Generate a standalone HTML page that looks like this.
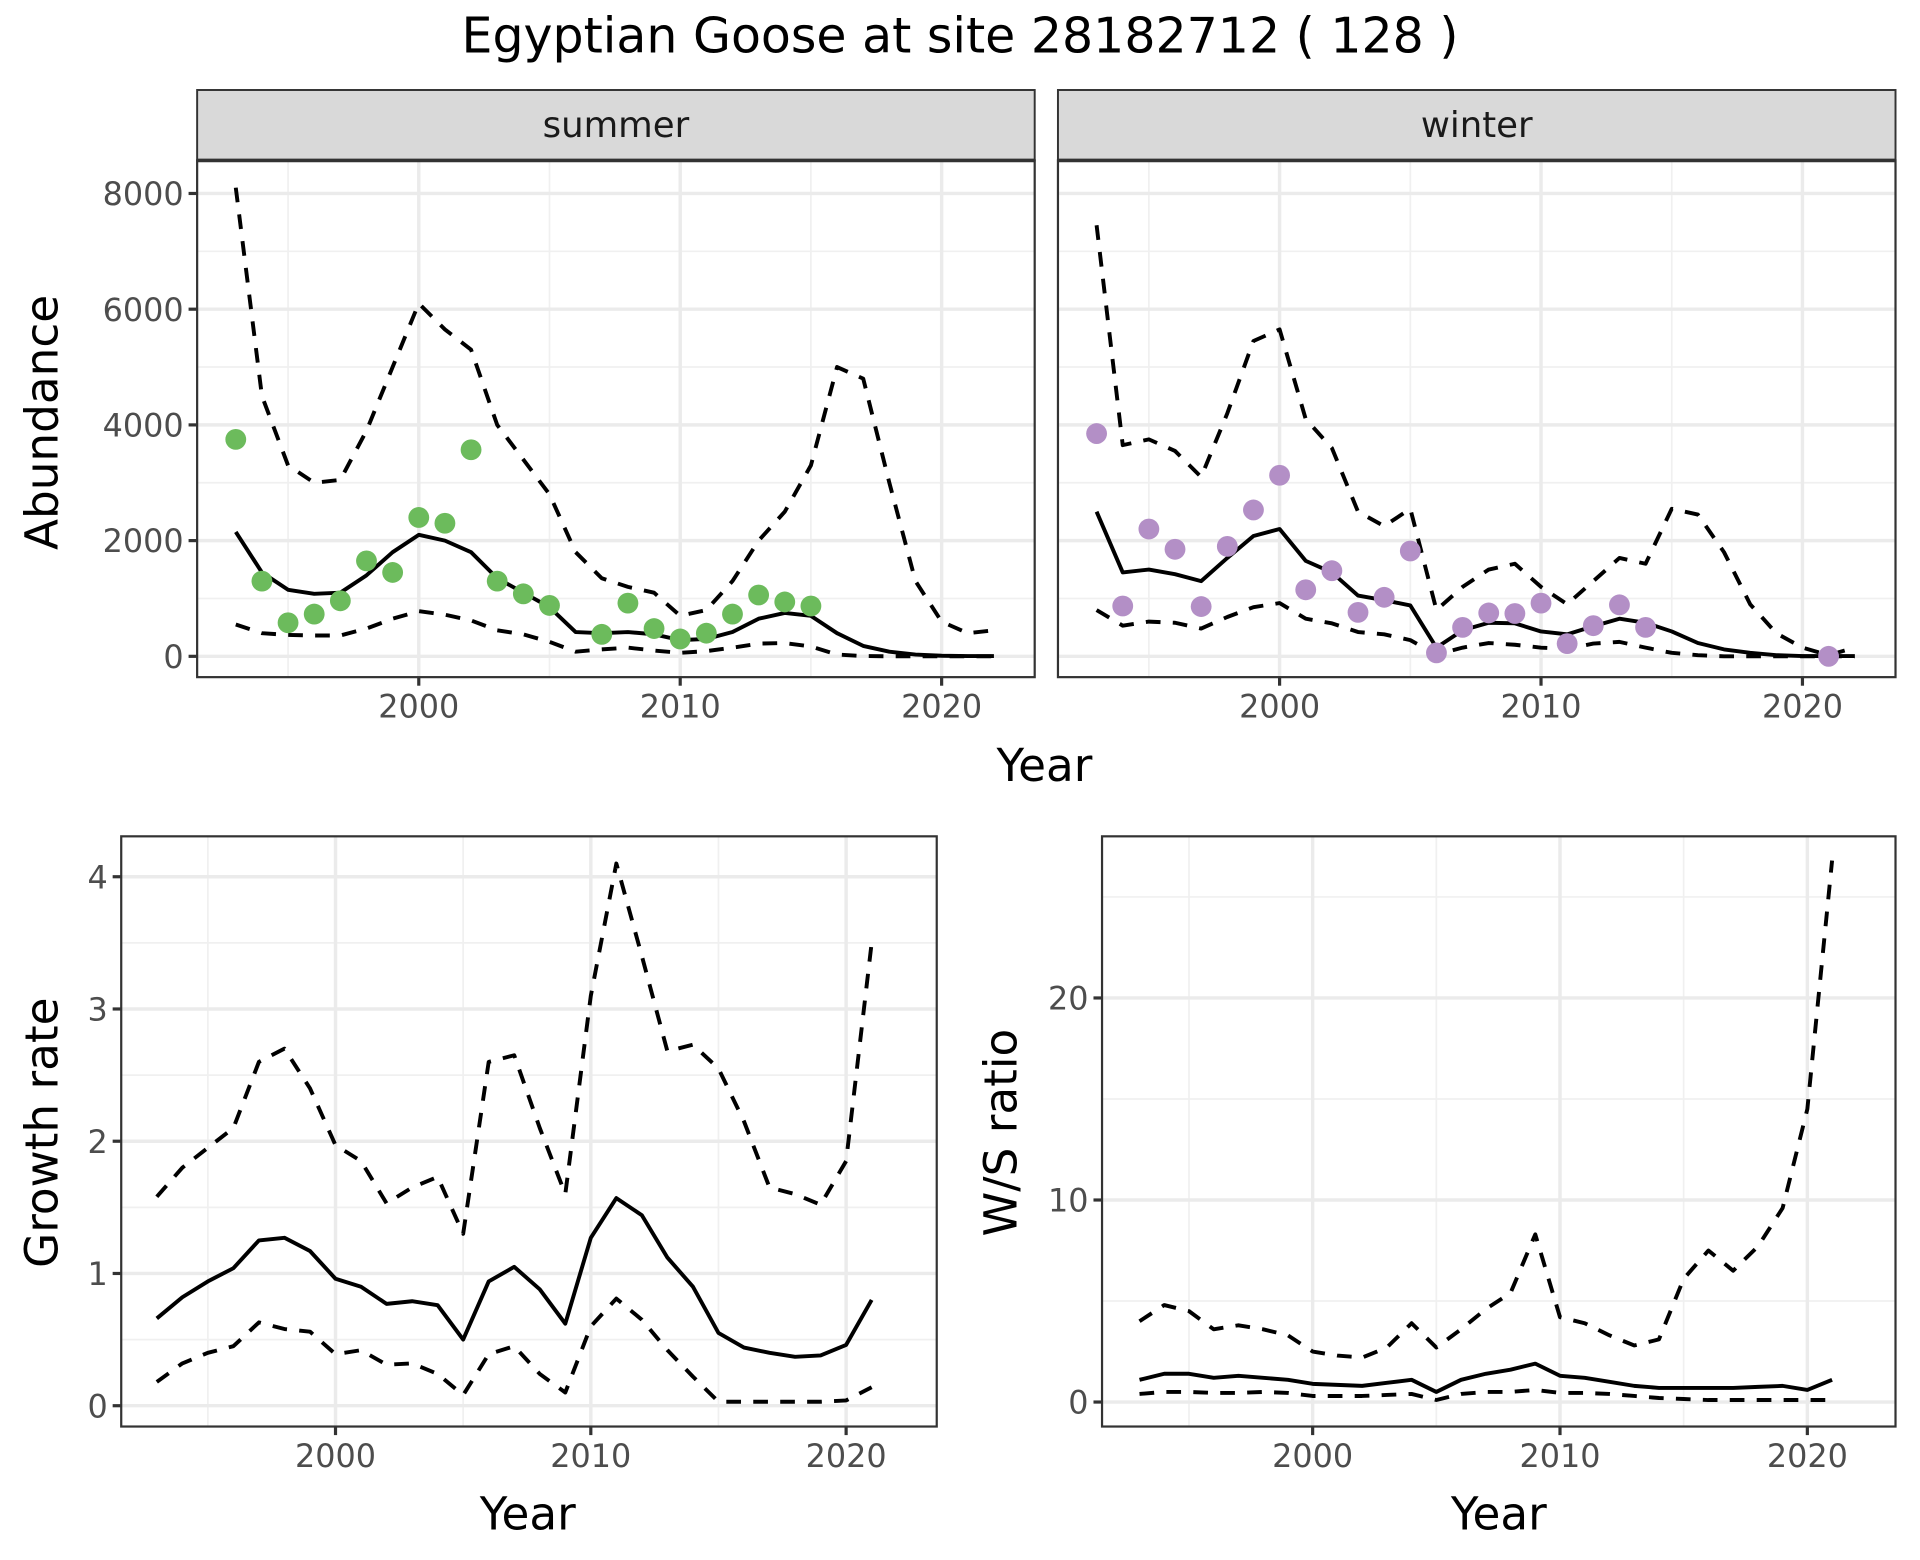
<!DOCTYPE html>
<html><head><meta charset="utf-8"><style>
html,body{margin:0;padding:0;background:#fff;}
svg{display:block;font-family:"DejaVu Sans","Liberation Sans",sans-serif;}
</style></head><body>
<svg id="chart" width="1920" height="1560" viewBox="0 0 1568 1274" xmlns="http://www.w3.org/2000/svg">
<rect width="1568" height="1274" fill="#fff"/>
<text x="784" y="43" font-size="40" text-anchor="middle" fill="#000">Egyptian Goose at site 28182712 ( 128 )</text>
<g id="root"></g>
</svg>
<script>
const years = [1993,1994,1995,1996,1997,1998,1999,2000,2001,2002,2003,2004,2005,2006,2007,2008,2009,2010,2011,2012,2013,2014,2015,2016,2017,2018,2019,2020,2021,2022];
const summerMid = [2150,1450,1150,1080,1100,1400,1800,2100,2000,1800,1350,1100,850,420,400,420,380,280,300,420,650,750,700,400,180,80,30,10,5,5];
const summerUpper = [8100,4500,3300,3000,3050,3900,5000,6100,5650,5300,4000,3400,2800,1800,1350,1200,1100,700,800,1300,2000,2500,3300,5000,4800,3000,1300,600,400,450];
const summerLower = [550,400,370,360,360,480,650,780,720,620,450,380,250,80,120,150,100,60,90,150,220,230,170,30,5,0,0,0,0,0];
const summerPtYears = [1993,1994,1995,1996,1997,1998,1999,2000,2001,2002,2003,2004,2005,2007,2008,2009,2010,2011,2012,2013,2014,2015];
const summerPts = [3750,1300,580,730,960,1650,1450,2400,2300,3570,1300,1080,880,380,920,480,300,400,730,1060,940,870];
const winterMid = [2500,1450,1500,1420,1300,1700,2080,2200,1650,1450,1050,970,880,150,450,580,570,430,380,520,650,580,430,230,120,60,20,5,5,5];
const winterUpper = [7450,3650,3750,3550,3100,4200,5450,5650,4100,3600,2500,2250,2550,800,1200,1500,1600,1200,900,1300,1700,1600,2550,2450,1800,900,400,150,20,150];
const winterLower = [800,530,600,580,480,680,850,920,650,570,420,380,280,30,150,230,200,150,130,220,250,150,60,20,0,0,0,0,0,0];
const winterPtYears = [1993,1994,1995,1996,1997,1998,1999,2000,2001,2002,2003,2004,2005,2006,2007,2008,2009,2010,2011,2012,2013,2014,2021];
const winterPts = [3850,870,2200,1850,860,1900,2530,3130,1150,1480,760,1020,1820,60,500,750,740,920,220,530,890,500,0];
const years2 = [1993,1994,1995,1996,1997,1998,1999,2000,2001,2002,2003,2004,2005,2006,2007,2008,2009,2010,2011,2012,2013,2014,2015,2016,2017,2018,2019,2020,2021];
const growthMid = [0.66,0.82,0.94,1.04,1.25,1.27,1.17,0.96,0.9,0.77,0.79,0.76,0.5,0.94,1.05,0.88,0.62,1.27,1.57,1.44,1.12,0.9,0.55,0.44,0.4,0.37,0.38,0.46,0.8];
const growthUpper = [1.58,1.8,1.95,2.1,2.6,2.7,2.4,1.97,1.85,1.53,1.65,1.73,1.3,2.6,2.65,2.1,1.6,3.1,4.1,3.4,2.68,2.73,2.55,2.15,1.65,1.6,1.52,1.85,3.5];
const growthLower = [0.18,0.32,0.4,0.45,0.63,0.58,0.56,0.39,0.42,0.31,0.32,0.24,0.08,0.39,0.45,0.24,0.1,0.6,0.81,0.65,0.42,0.22,0.03,0.03,0.03,0.03,0.03,0.04,0.14];
const ratioMid = [1.1,1.4,1.4,1.2,1.3,1.2,1.1,0.9,0.85,0.8,0.95,1.1,0.5,1.1,1.4,1.6,1.9,1.3,1.2,1.0,0.8,0.7,0.7,0.7,0.7,0.75,0.8,0.6,1.1];
const ratioUpper = [4,4.8,4.5,3.6,3.8,3.6,3.3,2.5,2.3,2.2,2.7,3.9,2.7,3.6,4.6,5.4,8.3,4.2,3.9,3.3,2.8,3.1,6.1,7.5,6.5,7.7,9.6,14.5,26.8];
const ratioLower = [0.4,0.5,0.5,0.45,0.45,0.5,0.45,0.3,0.3,0.3,0.35,0.4,0.1,0.4,0.5,0.5,0.6,0.45,0.45,0.4,0.3,0.2,0.15,0.1,0.1,0.1,0.1,0.1,0.1];
const xTicks = [2000,2010,2020];
const xMinor = [1995,2005,2015];
const abTicks = [0,2000,4000,6000,8000];
const abMinor = [1000,3000,5000,7000];
const grTicks = [0,1,2,3,4];
const grMinor = [0.5,1.5,2.5,3.5];
const raTicks = [0,10,20];
const raMinor = [5,15,25];

const NS="http://www.w3.org/2000/svg";
const root=document.getElementById('root');
function mk(tag,attrs,parent){const e=document.createElementNS(NS,tag);for(const k in attrs)e.setAttribute(k,attrs[k]);(parent||root).appendChild(e);return e;}

function panel(o){
  const g=mk('g',{});
  
  
  const sx=v=>o.x0+(v-o.xv0)*o.xs;
  const sy=v=>o.y0-(v-o.yv0)*o.ys;
  const clip='clip-'+o.name;
  const cp=mk('clipPath',{id:clip},g);mk('rect',{x:o.L,y:o.T,width:o.R-o.L,height:o.B-o.T},cp);
  xMinor.forEach(v=>mk('line',{x1:sx(v),x2:sx(v),y1:o.T,y2:o.B,stroke:'#f0f0f0','stroke-width':1.4},g));
  o.yMinor.forEach(v=>{const y=sy(v);if(y>o.T&&y<o.B)mk('line',{x1:o.L,x2:o.R,y1:y,y2:y,stroke:'#f0f0f0','stroke-width':1.4},g);});
  xTicks.forEach(v=>mk('line',{x1:sx(v),x2:sx(v),y1:o.T,y2:o.B,stroke:'#ebebeb','stroke-width':2.8},g));
  o.yTicks.forEach(v=>mk('line',{x1:o.L,x2:o.R,y1:sy(v),y2:sy(v),stroke:'#ebebeb','stroke-width':2.8},g));
  const lg=mk('g',{'clip-path':'url(#'+clip+')'},g);
  function line(xs,ys,dash,nm){
    const p=mk('polyline',{points:xs.map((x,i)=>sx(x)+','+sy(ys[i])).join(' '),fill:'none',stroke:'#000','stroke-width':3.2,'stroke-linejoin':'round'},lg);
    if(dash)p.setAttribute('stroke-dasharray','12,10');
    
    
  }
  line(o.xs_,o.up,true,o.name+'-upper-line');
  line(o.xs_,o.lo,true,o.name+'-lower-line');
  line(o.xs_,o.mid,false,o.name+'-mid-line');
  if(o.pts){o.ptx.forEach((x,i)=>{const c=mk('circle',{cx:sx(x),cy:sy(o.pts[i]),r:8.5,fill:o.col},lg);
    
    });}
  mk('rect',{x:o.L,y:o.T,width:o.R-o.L,height:o.B-o.T,fill:'none',stroke:'#333','stroke-width':1.8},g);
  xTicks.forEach(v=>{mk('line',{x1:sx(v),x2:sx(v),y1:o.B,y2:o.B+7,stroke:'#333','stroke-width':2.6},g);
    const t=mk('text',{x:sx(v),y:o.B+33,'font-size':26,'text-anchor':'middle',fill:'#4d4d4d'},g);t.textContent=v;
    
    });
  if(o.showY){o.yTicks.forEach(v=>{mk('line',{x1:o.L-7,x2:o.L,y1:sy(v),y2:sy(v),stroke:'#333','stroke-width':2.6},g);
    const t=mk('text',{x:o.L-11,y:sy(v)+9.5,'font-size':26,'text-anchor':'end',fill:'#4d4d4d'},g);t.textContent=v;
    
    });}
  if(o.strip){mk('rect',{x:o.L,y:73.5,width:o.R-o.L,height:57.5,fill:'#d9d9d9',stroke:'#333','stroke-width':1.6},g);
    mk('line',{x1:o.L,x2:o.R,y1:131,y2:131,stroke:'#333','stroke-width':3},g);
    const t=mk('text',{x:(o.L+o.R)/2,y:112,'font-size':29,'text-anchor':'middle',fill:'#1a1a1a'},g);t.textContent=o.strip;
    
    }
}
panel({name:'summer-panel',L:161,R:845,T:131,B:553,x0:342,xv0:2000,xs:21.35,y0:536,yv0:0,ys:94.5/2000,yTicks:abTicks,yMinor:abMinor,
  xs_:years,mid:summerMid,up:summerUpper,lo:summerLower,ptx:summerPtYears,pts:summerPts,col:'#6cbb5c',showY:true,strip:'summer'});
panel({name:'winter-panel',L:864,R:1548,T:131,B:553,x0:1045,xv0:2000,xs:21.35,y0:536,yv0:0,ys:94.5/2000,yTicks:abTicks,yMinor:abMinor,
  xs_:years,mid:winterMid,up:winterUpper,lo:winterLower,ptx:winterPtYears,pts:winterPts,col:'#b38fc6',showY:false,strip:'winter'});
panel({name:'growth-panel',L:99,R:765,T:683,B:1165,x0:274,xv0:2000,xs:20.85,y0:1148,yv0:0,ys:108,yTicks:grTicks,yMinor:grMinor,
  xs_:years2,mid:growthMid,up:growthUpper,lo:growthLower,showY:true});
panel({name:'ratio-panel',L:900,R:1548,T:683,B:1165,x0:1072,xv0:2000,xs:20.2,y0:1145,yv0:0,ys:16.5,yTicks:raTicks,yMinor:raMinor,
  xs_:years2,mid:ratioMid,up:ratioUpper,lo:ratioLower,showY:true});
function label(txt,x,y,rot,nm){const t=mk('text',{x:x,y:y,'font-size':37,'text-anchor':'middle',fill:'#000'});
  if(rot)t.setAttribute('transform','rotate(-90 '+x+' '+y+')');t.textContent=txt;
  
  }
label('Year',853,638,false,'top-x-axis-title');
label('Abundance',47,345,true,'abundance-axis-title');
label('Year',431,1249,false,'growth-x-axis-title');
label('Year',1224,1249,false,'ratio-x-axis-title');
label('Growth rate',47,925,true,'growth-axis-title');
label('W/S ratio',830,925,true,'ratio-axis-title');
</script>
</body></html>
